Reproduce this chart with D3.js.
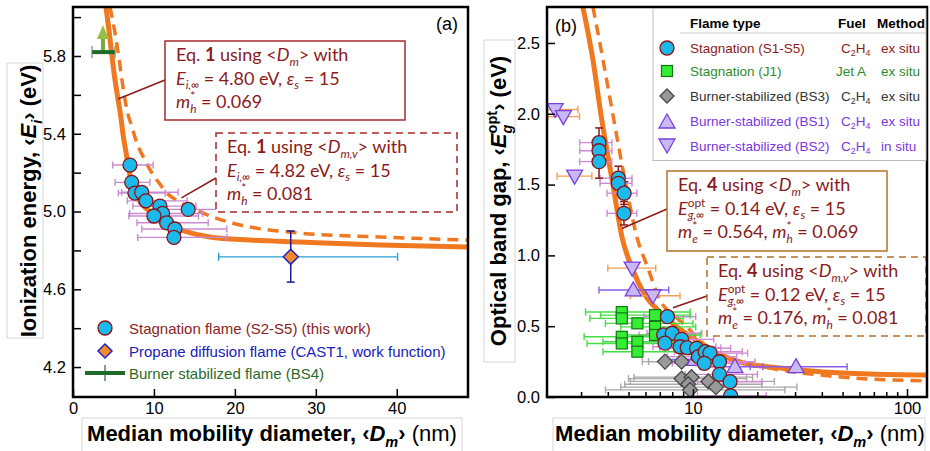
<!DOCTYPE html>
<html>
<head>
<meta charset="utf-8">
<script src="https://cdn.jsdelivr.net/npm/d3@7"></script>
<style>
  body { margin: 0; background: #fff; }
  svg text { white-space: pre; }
</style>
</head>
<body>
<div id="chart"></div>
<script>
// ---------- panel (a): ionization energy vs Dm ----------
// [Dm, Ei, Dm low, Dm high]
const stagA = [
  [7.04, 5.239, 4.9, 9.9],
  [7.25, 5.150, 5.2, 9.5],
  [7.65, 5.095, 5.6, 11.4],
  [8.48, 5.099, 6.0, 13.0],
  [9.01, 5.055, 6.7, 14.1],
  [10.74, 5.028, 7.4, 15.2],
  [11.07, 4.990, 7.0, 16.0],
  [10.0, 4.977, 6.9, 15.5],
  [11.57, 4.942, 7.9, 16.7],
  [12.59, 4.910, 8.5, 19.0],
  [12.47, 4.867, 8.0, 19.0],
  [14.23, 5.011, 11.1, 22.2]
];
// [Dm, Ei, Dm low, Dm high, Ei low, Ei high]
const propaneA = [26.9, 4.767, 18.0, 40.1, 4.637, 4.900];
// [Dm, Ei, Dm low, Dm high, arrow tip]
const bs4A = [3.7, 5.82, 2.35, 5.19, 5.96];
// Eq. 1 curves
const fitA = [[4.07, 6.052], [4.44, 5.934], [4.81, 5.80], [5.19, 5.677], [5.56, 5.579], [5.93, 5.481],
  [6.17, 5.399], [6.54, 5.307], [6.79, 5.24], [7.16, 5.162], [7.65, 5.095], [8.40, 5.044], [9.51, 4.998],
  [10.74, 4.961], [12.22, 4.925], [13.83, 4.899], [16.91, 4.869], [21.85, 4.853], [28.0, 4.843],
  [37.9, 4.828], [48.8, 4.817]];
const fitAv = [[4.57, 6.052], [5.19, 5.918], [5.68, 5.789], [6.05, 5.676], [6.67, 5.522], [7.28, 5.435],
  [7.90, 5.352], [8.89, 5.265], [9.75, 5.198], [10.74, 5.141], [11.6, 5.095], [12.96, 5.054],
  [14.44, 5.023], [17.28, 4.972], [19.75, 4.94], [28.0, 4.889], [37.9, 4.869], [48.8, 4.853]];
const xTicksA = [0, 10, 20, 30, 40];
const yTicksA = [4.2, 4.4, 4.6, 4.8, 5.0, 5.2, 5.4, 5.6, 5.8, 6.0];
const yLabelsA = [4.2, 4.6, 5.0, 5.4, 5.8];
const legendA = ['Stagnation flame (S2-S5) (this work)', 'Propane diffusion flame (CAST1, work function)', 'Burner stabilized flame (BS4)'];

// ---------- panel (b): optical band gap vs Dm ----------
// [Dm, Eg, Dm low, Dm high, Eg low, Eg high]
const stagB = [
  [3.64, 1.796, 2.96, 4.18, 1.70, 1.90],
  [3.64, 1.739, 2.96, 4.18],
  [3.64, 1.662, 2.96, 4.18, 1.545, 1.76],
  [4.48, 1.545, 3.68, 5.19, 1.47, 1.63],
  [4.48, 1.509, 3.68, 5.19],
  [4.77, 1.439, 3.97, 5.47, 1.36, 1.52],
  [4.76, 1.297, 3.97, 5.47, 1.215, 1.38],
  [7.6, 0.567, 5.9, 10.3],
  [7.3, 0.438, 5.6, 10.0],
  [8.0, 0.450, 6.1, 11.0],
  [7.4, 0.380, 5.7, 10.2],
  [8.85, 0.407, 6.6, 12.5],
  [8.7, 0.355, 6.5, 12.8],
  [9.4, 0.348, 7.0, 13.5],
  [10.4, 0.344, 7.7, 15.0],
  [10.6, 0.285, 7.6, 16.0],
  [11.4, 0.320, 8.2, 17.0],
  [12.0, 0.310, 8.6, 18.0],
  [11.3, 0.238, 8.0, 17.5],
  [13.3, 0.249, 9.5, 19.5],
  [13.3, 0.160, 9.2, 20.0],
  [14.9, 0.108, 10.5, 21.0],
  [15.0, 0.008, 10.5, 22.0]
];
const jetB = [
  [4.65, 0.600, 3.15, 9.7],
  [4.65, 0.555, 3.3, 9.0],
  [5.5, 0.520, 3.9, 10.0],
  [6.65, 0.578, 3.7, 9.7],
  [6.65, 0.495, 4.6, 10.3],
  [6.65, 0.438, 4.7, 10.8],
  [4.65, 0.425, 3.1, 8.4],
  [4.65, 0.378, 3.2, 8.8],
  [5.5, 0.390, 3.8, 9.4],
  [5.5, 0.320, 3.8, 9.6]
];
const bs3B = [
  [7.4, 0.25, 5.8, 10.6],
  [8.85, 0.25, 6.2, 12.5],
  [8.85, 0.13, 5.0, 17.8],
  [9.85, 0.14, 5.3, 19.0],
  [9.5, 0.09, 4.8, 21.0],
  [9.7, 0.05, 3.9, 26.9],
  [11.8, 0.11, 5.1, 24.0],
  [12.8, 0.07, 4.6, 30.6]
];
const bs1B = [
  [5.26, 0.756, 3.64, 7.7],
  [10.2, 0.265, 7.5, 14.0],
  [15.7, 0.214, 10.8, 21.2],
  [30.3, 0.214, 18.5, 52.5]
];
const bs2B = [
  [2.27, 2.03, 2.0, 2.9],
  [2.48, 1.98, 2.1, 2.95],
  [2.8, 1.56, 2.32, 3.37],
  [5.2, 0.91, 4.0, 6.7],
  [6.5, 0.715, 5.1, 8.7]
];
// Eq. 4 curves
const fitB = [[3.06, 2.754], [3.41, 2.38], [3.72, 1.99], [4.23, 1.497], [4.66, 1.13], [5.24, 0.897],
  [5.97, 0.72], [7.01, 0.60], [8.42, 0.494], [10, 0.417], [12.67, 0.318], [16.58, 0.247], [25.5, 0.205],
  [40.5, 0.177], [67.1, 0.162], [124, 0.155]];
const fitBv = [[3.41, 2.754], [3.80, 2.38], [4.23, 1.99], [4.86, 1.497], [5.47, 1.13], [6.16, 0.911],
  [7.01, 0.685], [8.42, 0.558], [9.68, 0.473], [11.1, 0.381], [13.4, 0.304], [20.6, 0.219],
  [43.7, 0.148], [124, 0.113]];
const yTicksB = [0, 0.5, 1.0, 1.5, 2.0, 2.5];
const xMajorB = [10, 100];
const xMinorB = [3, 4, 5, 6, 7, 8, 9, 20, 30, 40, 50, 60, 70, 80, 90];
const flameTypes = ['Stagnation (S1-S5)', 'Stagnation (J1)', 'Burner-stabilized (BS3)', 'Burner-stabilized (BS1)', 'Burner-stabilized (BS2)'];
const fuels = ['C2H4', 'Jet A', 'C2H4', 'C2H4', 'C2H4'];
const methods = ['ex situ', 'ex situ', 'ex situ', 'ex situ', 'in situ'];

// ---------- styling ----------
const FONT = "'Liberation Sans', Arial, sans-serif";
const FONT_BOX = "Lato, 'Open Sans', sans-serif";
const ORANGE = '#F07820';
const DARKRED = '#8B1A1A';
const CYAN = '#1CB9EC';
const W = 930, H = 451;

const svg = d3.select('#chart').append('svg').attr('width', W).attr('height', H);
svg.append('rect').attr('width', W).attr('height', H).attr('fill', '#fff');

const boxA = { l: 73, t: 7, r: 468, b: 397 };
const boxB = { l: 547, t: 7, r: 927, b: 397 };

const xA = d3.scaleLinear().domain([0, 48.8]).range([boxA.l, boxA.r]);
const yA = d3.scaleLinear().domain([4.046, 6.052]).range([boxA.b, boxA.t]);
const xB = d3.scaleLog().domain([2.08, 124]).range([boxB.l, boxB.r]);
const yB = d3.scaleLinear().domain([0, 2.754]).range([boxB.b, boxB.t]);

const defs = svg.append('defs');
defs.append('clipPath').attr('id', 'clipA').append('rect')
  .attr('x', boxA.l).attr('y', boxA.t).attr('width', boxA.r - boxA.l).attr('height', boxA.b - boxA.t);
defs.append('clipPath').attr('id', 'clipB').append('rect')
  .attr('x', boxB.l).attr('y', boxB.t).attr('width', boxB.r - boxB.l).attr('height', boxB.b - boxB.t);

// text with italic / bold / sub / sup pieces
// part = [text, flags, subText, subFlags]; flags: i, b, n, _ (sub), ^ (sup), ^_ (sup + sub stacked)
function rich(g, x, y, parts, size, color, opts) {
  opts = opts || {};
  const t = g.append('text').attr('x', x).attr('y', y)
    .attr('font-size', size).attr('fill', color)
    .attr('font-family', opts.font || FONT_BOX);
  if (opts.weight) t.attr('font-weight', opts.weight);
  if (opts.anchor) t.attr('text-anchor', opts.anchor);
  const small = size * 0.66;
  let shift = 0, pend = 0;
  const add = (txt, f, to, dx) => {
    const s = t.append('tspan').text(txt).attr('dy', to - shift);
    const d = (dx || 0) + pend;
    pend = 0;
    if (d) s.attr('dx', d);
    shift = to;
    if (f.includes('i')) s.attr('font-style', 'italic');
    if (f.includes('b')) s.attr('font-weight', 'bold');
    if (f.includes('n')) s.attr('font-weight', 'normal');
    if (to !== 0) s.attr('font-size', small);
    return s;
  };
  parts.forEach(p => {
    const f = p[1] || '';
    if (f.includes('^_')) {
      const a = add(p[0], f.replace('^_', ''), -size * 0.42);
      const wa = a.node().getComputedTextLength();
      const b = add(p[2], p[3] || '', size * 0.27, -wa);
      const wb = b.node().getComputedTextLength();
      if (wa > wb) pend = wa - wb;
    } else if (f.includes('_')) add(p[0], f, size * 0.25);
    else if (f.includes('^')) add(p[0], f, -size * 0.4);
    else add(p[0], f, 0);
  });
  return t;
}

function hbar(g, xs, ys, D, lo, hi, color, cap) {
  const y = ys(D[1]);
  g.append('line').attr('x1', xs(lo)).attr('x2', xs(hi)).attr('y1', y).attr('y2', y)
    .attr('stroke', color).attr('stroke-width', 1.4);
  [lo, hi].forEach(v => g.append('line').attr('x1', xs(v)).attr('x2', xs(v))
    .attr('y1', y - cap).attr('y2', y + cap).attr('stroke', color).attr('stroke-width', 1.4));
}
function vbar(g, x, ys, lo, hi, color, cap) {
  g.append('line').attr('x1', x).attr('x2', x).attr('y1', ys(lo)).attr('y2', ys(hi))
    .attr('stroke', color).attr('stroke-width', 1.5);
  [lo, hi].forEach(v => g.append('line').attr('x1', x - cap).attr('x2', x + cap)
    .attr('y1', ys(v)).attr('y2', ys(v)).attr('stroke', color).attr('stroke-width', 1.5));
}
const diamond = r => `M0,${-r}L${r},0L0,${r}L${-r},0Z`;
const triUp = r => `M0,${-r}L${r},${r * 0.75}L${-r},${r * 0.75}Z`;
const triDown = r => `M0,${r}L${r},${-r * 0.75}L${-r},${-r * 0.75}Z`;

// ================= panel (a) =================
const gA = svg.append('g');
const plotA = gA.append('g').attr('clip-path', 'url(#clipA)');
const lineA = d3.line().x(d => xA(d[0])).y(d => yA(d[1])).curve(d3.curveMonotoneX);

plotA.append('path').datum(fitAv).attr('d', lineA).attr('fill', 'none')
  .attr('stroke', ORANGE).attr('stroke-width', 3.5).attr('stroke-dasharray', '11,7');
plotA.append('path').datum(fitA).attr('d', lineA).attr('fill', 'none')
  .attr('stroke', ORANGE).attr('stroke-width', 5);

// annotation boxes
function eqBox(g, x, y, w, h, dashed, border, lines, from, to) {
  g.append('line').attr('x1', from[0]).attr('y1', from[1]).attr('x2', to[0]).attr('y2', to[1])
    .attr('stroke', DARKRED).attr('stroke-width', 1.5);
  g.append('rect').attr('x', x).attr('y', y).attr('width', w).attr('height', h)
    .attr('fill', '#fff').attr('stroke', border).attr('stroke-width', 1.5)
    .attr('stroke-dasharray', dashed ? '7,5' : null);
  lines.forEach((ln, i) => rich(g, x + 11, y + 20 + i * 23.5, ln, 18, DARKRED));
}

eqBox(gA, 165, 41, 240, 79, false, '#A52A2A', [
  [['Eq. '], ['1', 'b'], [' using <'], ['D', 'i'], ['m', 'i_'], ['> with']],
  [['E', 'i'], ['i,\u221e', 'i_'], [' = 4.80 eV, '], ['\u03b5', 'i'], ['s', 'i_'], [' = 15']],
  [['m', 'i'], ['*', '^_', 'h', 'i'], [' = 0.069']]
], [165, 80], [xA(5.56), yA(5.579)]);

eqBox(gA, 216, 133, 241, 79, true, '#A52A2A', [
  [['Eq. '], ['1', 'b'], [' using <'], ['D', 'i'], ['m,v', 'i_'], ['> with']],
  [['E', 'i'], ['i,\u221e', 'i_'], [' = 4.82 eV, '], ['\u03b5', 'i'], ['s', 'i_'], [' = 15']],
  [['m', 'i'], ['*', '^_', 'h', 'i'], [' = 0.081']]
], [216, 178], [xA(13.4), yA(5.07)]);

// error bars (a)
stagA.forEach(d => hbar(plotA, xA, yA, d, d[2], d[3], '#C98BD0', 3.5));
hbar(plotA, xA, yA, propaneA, propaneA[2], propaneA[3], '#2A9FD6', 4);
vbar(plotA, xA(propaneA[0]), yA, propaneA[4], propaneA[5], '#1A1A99', 4);

// BS4 marker with arrow
{
  const y = yA(bs4A[1]), xc = xA(bs4A[0]);
  const tip = yA(bs4A[4]);
  plotA.append('rect').attr('x', xc - 2).attr('y', tip + 13).attr('width', 4).attr('height', y - tip - 13)
    .attr('fill', '#7FA83A');
  plotA.append('path').attr('d', `M${xc},${tip}L${xc + 6},${tip + 14}L${xc - 6},${tip + 14}Z`)
    .attr('fill', '#95BF45');
  plotA.append('line').attr('x1', xA(bs4A[2])).attr('x2', xA(bs4A[3])).attr('y1', y).attr('y2', y)
    .attr('stroke', '#1D6B26').attr('stroke-width', 4);
  [bs4A[2], bs4A[3]].forEach(v => plotA.append('line').attr('x1', xA(v)).attr('x2', xA(v))
    .attr('y1', y - 6).attr('y2', y + 6).attr('stroke', '#4E7A4E').attr('stroke-width', 1));
}

plotA.selectAll('circle.stag').data(stagA).join('circle').attr('class', 'stag')
  .attr('cx', d => xA(d[0])).attr('cy', d => yA(d[1])).attr('r', 7)
  .attr('fill', CYAN).attr('stroke', '#8B1111').attr('stroke-width', 1.3);
plotA.append('path').attr('d', diamond(7.5))
  .attr('transform', `translate(${xA(propaneA[0])},${yA(propaneA[1])})`)
  .attr('fill', '#F28C28').attr('stroke', '#2323C8').attr('stroke-width', 1.5);

// axes (a)
function styleAxis(g) {
  g.select('.domain').remove();
  g.selectAll('.tick line').attr('stroke', '#000').attr('stroke-width', 1.5);
  g.selectAll('.tick text').attr('font-family', FONT).attr('font-size', 16.5).attr('fill', '#000');
}
gA.append('g').attr('transform', `translate(0,${boxA.b})`)
  .call(d3.axisBottom(xA).tickValues(xTicksA).tickSize(-8).tickPadding(5).tickFormat(d3.format('d')))
  .call(styleAxis);
gA.append('g').attr('transform', `translate(${boxA.l},0)`)
  .call(d3.axisLeft(yA).tickValues(yTicksA).tickSize(-8).tickPadding(7)
    .tickFormat(d => yLabelsA.some(v => Math.abs(v - d) < 1e-6) ? d3.format('.1f')(d) : ''))
  .call(styleAxis);
gA.append('rect').attr('x', boxA.l).attr('y', boxA.t).attr('width', boxA.r - boxA.l).attr('height', boxA.b - boxA.t)
  .attr('fill', 'none').attr('stroke', '#000').attr('stroke-width', 2.5);
gA.append('text').attr('x', 447).attr('y', 30).attr('text-anchor', 'middle')
  .attr('font-family', FONT).attr('font-size', 18).text('(a)');

// legend (a)
{
  const lx = 105, ly = [328, 351, 373], tx = 129;
  gA.append('circle').attr('cx', lx).attr('cy', ly[0]).attr('r', 7)
    .attr('fill', CYAN).attr('stroke', '#8B1111').attr('stroke-width', 1.3);
  gA.append('path').attr('d', diamond(7)).attr('transform', `translate(${lx},${ly[1]})`)
    .attr('fill', '#F28C28').attr('stroke', '#2323C8').attr('stroke-width', 1.5);
  gA.append('line').attr('x1', lx - 20).attr('x2', lx + 20).attr('y1', ly[2]).attr('y2', ly[2])
    .attr('stroke', '#1D6B26').attr('stroke-width', 4);
  gA.append('line').attr('x1', lx).attr('x2', lx).attr('y1', ly[2] - 8).attr('y2', ly[2] + 8)
    .attr('stroke', '#1D6B26').attr('stroke-width', 1.2);
  const cols = ['#8B2222', '#2020BB', '#2A6A2A'];
  legendA.forEach((s, i) => gA.append('text').attr('x', tx).attr('y', ly[i] + 5.5)
    .attr('font-family', FONT).attr('font-size', 15).attr('fill', cols[i]).text(s));
}

// axis labels (a)
svg.append('rect').attr('x', 7).attr('y', 63).attr('width', 36).attr('height', 275)
  .attr('fill', 'none').attr('stroke', '#d6d6d6').attr('stroke-width', 1);
rich(svg, 0, 0, [['Ionization energy, \u2039'], ['E', 'i'], ['i', 'i_'], ['\u203a (eV)']], 22, '#000',
  { font: FONT, weight: 'bold', anchor: 'middle' }).attr('transform', 'translate(36,201) rotate(-90)');
svg.append('rect').attr('x', 82).attr('y', 418).attr('width', 380).attr('height', 40)
  .attr('fill', 'none').attr('stroke', '#d6d6d6').attr('stroke-width', 1);
rich(svg, 272, 441, [['Median mobility diameter, \u2039'], ['D', 'i'], ['m', 'i_'], ['\u203a '], ['(nm)', 'n']], 22, '#000',
  { font: FONT, weight: 'bold', anchor: 'middle' });

// ================= panel (b) =================
const gB = svg.append('g');
const plotB = gB.append('g').attr('clip-path', 'url(#clipB)');
const lineB = d3.line().x(d => xB(d[0])).y(d => yB(d[1])).curve(d3.curveMonotoneX);

plotB.append('path').datum(fitBv).attr('d', lineB).attr('fill', 'none')
  .attr('stroke', ORANGE).attr('stroke-width', 3.5).attr('stroke-dasharray', '11,7');
plotB.append('path').datum(fitB).attr('d', lineB).attr('fill', 'none')
  .attr('stroke', ORANGE).attr('stroke-width', 5);

// error bars (b)
bs3B.forEach(d => hbar(plotB, xB, yB, d, d[2], d[3], '#A8A8A8', 3.5));
stagB.forEach(d => hbar(plotB, xB, yB, d, d[2], d[3], '#D08AD4', 3.5));
jetB.forEach(d => hbar(plotB, xB, yB, d, d[2], d[3], '#44DD44', 3.5));
bs1B.forEach(d => hbar(plotB, xB, yB, d, d[2], d[3], '#8C5CE6', 3.5));
bs2B.forEach(d => hbar(plotB, xB, yB, d, d[2], d[3], '#F0A050', 3.5));
stagB.filter(d => d.length > 4).forEach(d => vbar(plotB, xB(d[0]), yB, d[4], d[5], DARKRED, 4));

// markers (b)
plotB.selectAll('path.bs3').data(bs3B).join('path').attr('class', 'bs3')
  .attr('d', diamond(7.5)).attr('transform', d => `translate(${xB(d[0])},${yB(d[1])})`)
  .attr('fill', '#999').attr('stroke', '#444').attr('stroke-width', 1.3);
plotB.selectAll('rect.jet').data(jetB).join('rect').attr('class', 'jet')
  .attr('x', d => xB(d[0]) - 5.5).attr('y', d => yB(d[1]) - 5.5).attr('width', 11).attr('height', 11)
  .attr('fill', '#33EE33').attr('stroke', '#117711').attr('stroke-width', 1.2);
plotB.selectAll('path.bs1').data(bs1B).join('path').attr('class', 'bs1')
  .attr('d', triUp(8)).attr('transform', d => `translate(${xB(d[0])},${yB(d[1])})`)
  .attr('fill', '#C9B9F2').attr('stroke', '#7A3FE0').attr('stroke-width', 1.3);
plotB.selectAll('path.bs2').data(bs2B).join('path').attr('class', 'bs2')
  .attr('d', triDown(8)).attr('transform', d => `translate(${xB(d[0])},${yB(d[1])})`)
  .attr('fill', '#C9B9F2').attr('stroke', '#7A3FE0').attr('stroke-width', 1.3);
plotB.selectAll('circle.stag').data(stagB).join('circle').attr('class', 'stag')
  .attr('cx', d => xB(d[0])).attr('cy', d => yB(d[1])).attr('r', 7)
  .attr('fill', CYAN).attr('stroke', '#8B1111').attr('stroke-width', 1.3);

// annotation boxes (b)
eqBox(gB, 667, 171, 220, 80, false, '#B8702A', [
  [['Eq. '], ['4', 'b'], [' using <'], ['D', 'i'], ['m', 'i_'], ['> with']],
  [['E', 'i'], ['opt', '^_', 'g,\u221e', 'i'], [' = 0.14 eV, '], ['\u03b5', 'i'], ['s', 'i_'], [' = 15']],
  [['m', 'i'], ['*', '^_', 'e', 'i'], [' = 0.564, '], ['m', 'i'], ['*', '^_', 'h', 'i'], [' = 0.069']]
], [667, 209], [xB(4.66), yB(1.19)]);
eqBox(gB, 707, 257, 219, 79, true, '#B8702A', [
  [['Eq. '], ['4', 'b'], [' using <'], ['D', 'i'], ['m,v', 'i_'], ['> with']],
  [['E', 'i'], ['opt', '^_', 'g,\u221e', 'i'], [' = 0.12 eV, '], ['\u03b5', 'i'], ['s', 'i_'], [' = 15']],
  [['m', 'i'], ['*', '^_', 'e', 'i'], [' = 0.176, '], ['m', 'i'], ['*', '^_', 'h', 'i'], [' = 0.081']]
], [707, 296], [xB(8.06), yB(0.63)]);

// axes (b)
gB.append('g').attr('transform', `translate(0,${boxB.b})`)
  .call(d3.axisBottom(xB).tickValues(xMajorB).tickSize(-8).tickPadding(5).tickFormat(d3.format('d')))
  .call(styleAxis);
gB.append('g').attr('transform', `translate(0,${boxB.b})`)
  .call(d3.axisBottom(xB).tickValues(xMinorB).tickSize(-5).tickFormat(''))
  .call(styleAxis);
gB.append('g').attr('transform', `translate(${boxB.l},0)`)
  .call(d3.axisLeft(yB).tickValues(yTicksB).tickSize(-8).tickPadding(7).tickFormat(d3.format('.1f')))
  .call(styleAxis);
gB.append('rect').attr('x', boxB.l).attr('y', boxB.t).attr('width', boxB.r - boxB.l).attr('height', boxB.b - boxB.t)
  .attr('fill', 'none').attr('stroke', '#000').attr('stroke-width', 2.5);
gB.append('text').attr('x', 566).attr('y', 32).attr('text-anchor', 'middle')
  .attr('font-family', FONT).attr('font-size', 18).text('(b)');

// legend table (b)
{
  const lg = gB.append('g');
  lg.append('rect').attr('x', 653).attr('y', 8.5).attr('width', 273).attr('height', 152)
    .attr('fill', '#fff').attr('stroke', '#bbb').attr('stroke-width', 1);
  lg.append('line').attr('x1', 680).attr('x2', 926).attr('y1', 33).attr('y2', 33)
    .attr('stroke', '#ccc').attr('stroke-width', 1.2);
  [['Flame type', 690], ['Fuel', 838], ['Method', 877]].forEach(h => lg.append('text')
    .attr('x', h[1]).attr('y', 28).attr('font-family', FONT).attr('font-size', 13.5)
    .attr('font-weight', 'bold').text(h[0]));
  const rowY = [48, 71, 96, 121, 146];
  const cols = [DARKRED, '#2E8B2E', '#333', '#7B35E0', '#7B35E0'];
  const mx = 667;
  lg.append('circle').attr('cx', mx).attr('cy', rowY[0]).attr('r', 7)
    .attr('fill', CYAN).attr('stroke', '#8B1111').attr('stroke-width', 1.3);
  lg.append('rect').attr('x', mx - 5.5).attr('y', rowY[1] - 5.5).attr('width', 11).attr('height', 11)
    .attr('fill', '#33EE33').attr('stroke', '#117711').attr('stroke-width', 1.2);
  lg.append('path').attr('d', diamond(7)).attr('transform', `translate(${mx},${rowY[2]})`)
    .attr('fill', '#999').attr('stroke', '#444').attr('stroke-width', 1.3);
  lg.append('path').attr('d', triUp(8)).attr('transform', `translate(${mx},${rowY[3] + 1})`)
    .attr('fill', '#C9B9F2').attr('stroke', '#7A3FE0').attr('stroke-width', 1.3);
  lg.append('path').attr('d', triDown(8)).attr('transform', `translate(${mx},${rowY[4] - 1})`)
    .attr('fill', '#C9B9F2').attr('stroke', '#7A3FE0').attr('stroke-width', 1.3);
  flameTypes.forEach((s, i) => {
    const y = rowY[i] + 5;
    lg.append('text').attr('x', 690).attr('y', y).attr('font-family', FONT).attr('font-size', 13.5)
      .attr('fill', cols[i]).text(s);
    const isC = fuels[i] === 'C2H4';
    const fuelParts = isC ? [['C'], ['2', '_'], ['H'], ['4', '_']] : [[fuels[i]]];
    rich(lg, isC ? 841 : 836, y, fuelParts, 13.5, cols[i], { font: FONT });
    lg.append('text').attr('x', 881).attr('y', y).attr('font-family', FONT).attr('font-size', 13.5)
      .attr('fill', cols[i]).text(methods[i]);
  });
}

// axis labels (b)
svg.append('rect').attr('x', 484).attr('y', 40).attr('width', 31).attr('height', 322)
  .attr('fill', 'none').attr('stroke', '#d6d6d6').attr('stroke-width', 1);
rich(svg, 0, 0, [['Optical band gap, \u2039'], ['E', 'i'], ['opt', '^_', 'g', 'i'], ['\u203a (eV)']], 22, '#000',
  { font: FONT, weight: 'bold', anchor: 'middle' }).attr('transform', 'translate(506,201) rotate(-90)');
svg.append('rect').attr('x', 553).attr('y', 418).attr('width', 372).attr('height', 40)
  .attr('fill', 'none').attr('stroke', '#d6d6d6').attr('stroke-width', 1);
rich(svg, 740, 441, [['Median mobility diameter, \u2039'], ['D', 'i'], ['m', 'i_'], ['\u203a '], ['(nm)', 'n']], 22, '#000',
  { font: FONT, weight: 'bold', anchor: 'middle' });
</script>
</body>
</html>
